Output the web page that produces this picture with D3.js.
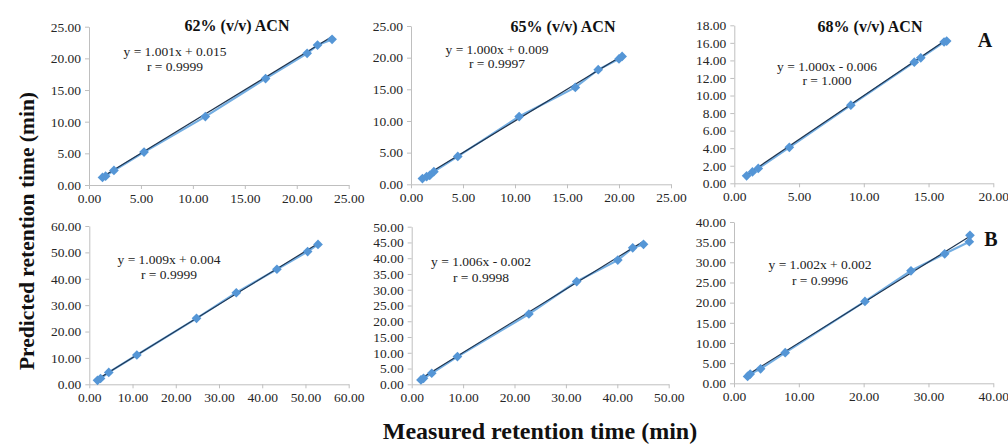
<!DOCTYPE html>
<html><head><meta charset="utf-8">
<script src="https://cdn.jsdelivr.net/npm/d3@7"></script>
<style>
html,body{margin:0;padding:0;background:#fff;}
text{font-family:"Liberation Serif","Times New Roman",serif;}
</style></head>
<body>
<svg id="c" width="1008" height="446"></svg>
<script>
// ---- data ----
const titles = ["62% (v/v) ACN","65% (v/v) ACN","68% (v/v) ACN","","",""];
const equations = ["y = 1.001x + 0.015","y = 1.000x + 0.009","y = 1.000x - 0.006","y = 1.009x + 0.004","y = 1.006x - 0.002","y = 1.002x + 0.002"];
const rValues = ["r = 0.9999","r = 0.9997","r = 1.000","r = 0.9999","r = 0.9998","r = 0.9996"];
const slopes = [1.001,1.000,1.000,1.009,1.006,1.002];
const intercepts = [0.015,0.009,-0.006,0.004,-0.002,0.002];
const xMax = [25,25,20,60,50,40];
const yMax = [25,25,18,60,50,40];
const xStep = [5,5,5,10,10,10];
const yStep = [5,5,2,10,5,5];
const measured62 = [1.3,1.6,2.4,5.3,11.2,17.0,21.0,22.0,23.4];
const predicted62 = [1.2,1.4,2.3,5.2,10.8,16.8,20.8,22.1,23.0];
const measured65 = [1.1,1.5,1.8,2.2,4.5,10.4,15.8,18.0,20.0,20.3];
const predicted65 = [0.9,1.2,1.4,2.0,4.4,10.7,15.3,18.1,19.8,20.2];
const measured68 = [0.95,1.4,1.85,4.25,9.0,13.9,14.4,16.2,16.4];
const predicted68 = [0.85,1.3,1.7,4.1,8.9,13.8,14.3,16.1,16.2];
const measuredB1 = [1.9,2.6,4.5,11.0,24.8,34.0,43.4,50.5,52.9];
const predictedB1 = [1.5,2.2,4.5,11.1,25.0,34.7,43.6,50.3,53.0];
const measuredB2 = [1.8,2.3,3.9,8.9,22.8,32.1,40.1,43.0,45.1];
const predictedB2 = [1.4,1.9,3.5,8.8,22.3,32.6,39.4,43.3,44.4];
const measuredB3 = [2.1,2.5,4.1,7.9,20.2,27.3,32.5,36.3,36.4];
const predictedB3 = [1.7,2.3,3.6,7.6,20.3,27.9,32.1,35.1,36.7];
const panelLabels = ["A","B"];
const measuredAll = [measured62,measured65,measured68,measuredB1,measuredB2,measuredB3];
const predictedAll = [predicted62,predicted65,predicted68,predictedB1,predictedB2,predictedB3];

// ---- layout ----
const boxes = [
  {x0:89,x1:348.7,y0:185,y1:26.7, tx:237,ty:31, ex:175,ey:56, ry:71},
  {x0:411,x1:671,y0:184.3,y1:26, tx:563,ty:32, ex:497,ey:54, ry:68},
  {x0:734.3,x1:993.3,y0:183.3,y1:25.3, tx:870,ty:32, ex:827,ey:71, ry:85},
  {x0:89.3,x1:348.7,y0:384.3,y1:226, ex:169,ey:264, ry:279},
  {x0:411.7,x1:668.7,y0:384.3,y1:226.7, ex:481,ey:266, ry:282},
  {x0:734,x1:993.3,y0:383.3,y1:222, ex:820,ey:269, ry:285}
];

const svg = d3.select("#c");
const axisColor = "#bfbfbf", textColor = "#262626";

boxes.forEach((b,i)=>{
  const x = d3.scaleLinear().domain([0,xMax[i]]).range([b.x0,b.x1]);
  const y = d3.scaleLinear().domain([0,yMax[i]]).range([b.y0,b.y1]);
  const g = svg.append("g");
  const xa = g.append("g").attr("transform",`translate(0,${b.y0})`)
    .call(d3.axisBottom(x).tickValues(d3.range(0,xMax[i]+0.001,xStep[i])).tickSize(4).tickSizeOuter(0).tickPadding(4).tickFormat(d3.format(".2f")));
  const ya = g.append("g").attr("transform",`translate(${b.x0},0)`)
    .call(d3.axisLeft(y).tickValues(d3.range(0,yMax[i]+0.001,yStep[i])).tickSize(4).tickSizeOuter(0).tickPadding(4).tickFormat(d3.format(".2f")));
  [xa,ya].forEach(a=>{
    a.attr("font-family",null);
    a.selectAll("path,line").attr("stroke",axisColor).attr("stroke-width",1);
    a.selectAll("text").attr("fill",textColor).style("font-size","13.5px").style("font-family","'Liberation Serif',serif");
  });
  const mx = measuredAll[i], py = predictedAll[i];
  const pts = mx.map((v,k)=>[v,py[k]]);
  // series line
  g.append("path").datum(pts)
    .attr("d",d3.line().x(d=>x(d[0])).y(d=>y(d[1])))
    .attr("fill","none").attr("stroke","#74aee2").attr("stroke-width",2.2);
  // trendline
  const xs = d3.extent(mx);
  g.append("path").datum(xs.map(v=>[v,slopes[i]*v+intercepts[i]]))
    .attr("d",d3.line().x(d=>x(d[0])).y(d=>y(d[1])))
    .attr("fill","none").attr("stroke","#1f3550").attr("stroke-width",1.2);
  // markers
  g.selectAll(".m").data(pts).enter().append("path")
    .attr("transform",d=>`translate(${x(d[0])},${y(d[1])})`)
    .attr("d",d3.symbol(d3.symbolDiamond2,60)())
    .attr("fill","#5596d6");
  if(titles[i]) g.append("text").attr("x",b.tx).attr("y",b.ty).attr("text-anchor","middle")
    .attr("font-weight","bold").attr("font-size","16px").attr("fill","#111").text(titles[i]);
  g.append("text").attr("x",b.ex).attr("y",b.ey).attr("text-anchor","middle")
    .attr("font-size","13.5px").attr("fill","#222").text(equations[i]);
  g.append("text").attr("x",b.ex).attr("y",b.ry).attr("text-anchor","middle")
    .attr("font-size","13.5px").attr("fill","#222").text(rValues[i]);
});

svg.append("text").attr("x",985).attr("y",47).attr("text-anchor","middle").attr("font-weight","bold")
  .attr("font-size","20px").attr("fill","#111").text(panelLabels[0]);
svg.append("text").attr("x",991).attr("y",246).attr("text-anchor","middle").attr("font-weight","bold")
  .attr("font-size","20px").attr("fill","#111").text(panelLabels[1]);

svg.append("text").attr("transform","translate(34,231) rotate(-90)").attr("text-anchor","middle")
  .attr("font-weight","bold").attr("font-size","21.5px").attr("fill","#111").text("Predicted retention time (min)");
svg.append("text").attr("x",540).attr("y",439).attr("text-anchor","middle")
  .attr("font-weight","bold").attr("font-size","24px").attr("fill","#111").text("Measured retention time (min)");
</script>
</body></html>
